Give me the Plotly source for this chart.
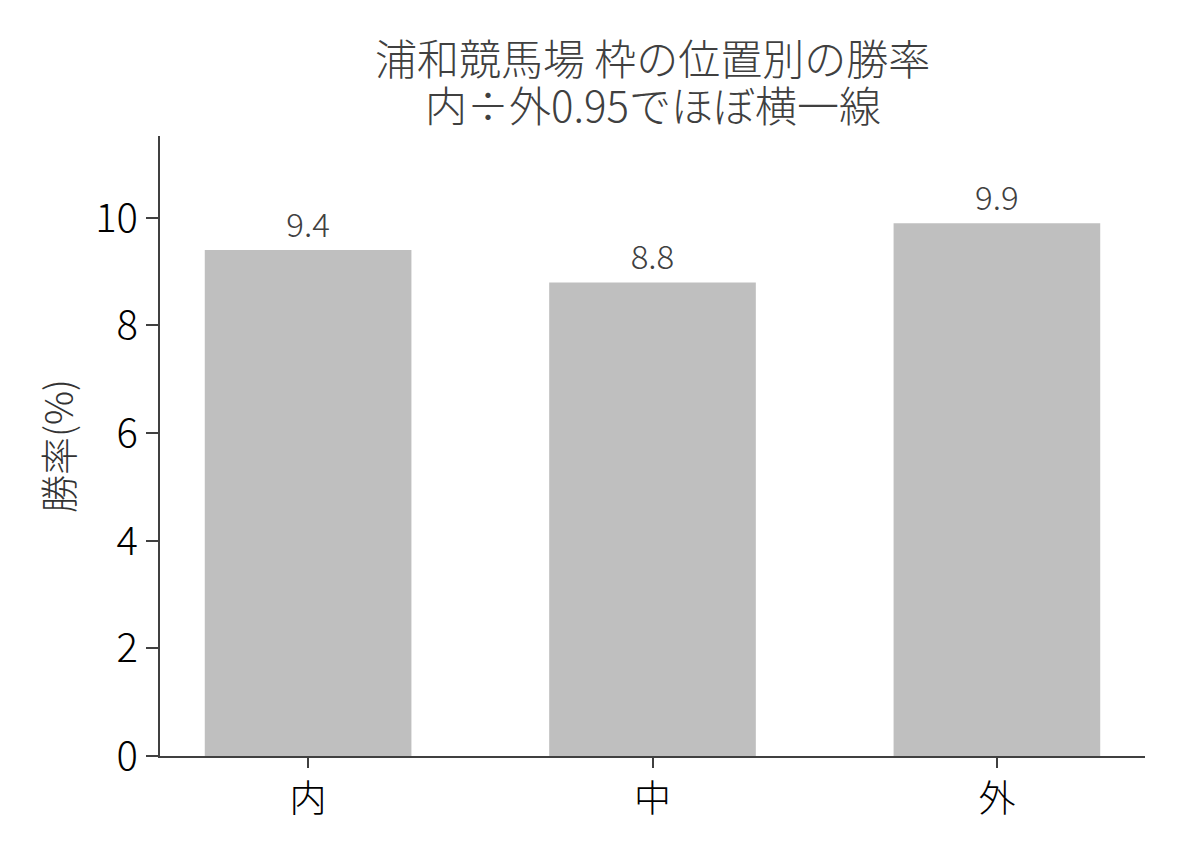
import plotly.graph_objects as go

categories = ["内", "中", "外"]
win_rate = [9.4, 8.8, 9.9]
value_labels = ["9.4", "8.8", "9.9"]
y_ticks = [0, 2, 4, 6, 8, 10]
title_lines = ["浦和競馬場 枠の位置別の勝率", "内÷外0.95でほぼ横一線"]

FONT = "Noto Sans CJK JP"

fig = go.Figure(go.Bar(
    x=categories, y=win_rate, width=0.6,
    marker=dict(color="#bfbfbf", line=dict(width=0)),
    text=value_labels, textposition="outside", cliponaxis=False,
    textfont=dict(family=FONT, size=33, color="#404040", weight=300),
))

fig.update_layout(
    width=1188, height=858,
    paper_bgcolor="white", plot_bgcolor="white",
    margin=dict(l=152, r=51, t=128, b=110),
    showlegend=False,
    font=dict(family=FONT),
)

for txt, yy in zip(title_lines, [1.129, 1.052]):
    fig.add_annotation(
        text=txt, xref="paper", yref="paper", x=0.5, y=yy,
        xanchor="center", yanchor="middle", showarrow=False,
        font=dict(family=FONT, size=42, color="#404040", weight=300),
    )

fig.update_xaxes(
    range=[-0.43, 2.43], showline=True, linecolor="#404040", linewidth=2,
    ticks="outside", ticklen=10, tickwidth=2, tickcolor="#404040",
    tickfont=dict(family=FONT, size=37, color="#000000", weight=300),
    showgrid=False, zeroline=False,
)
fig.update_yaxes(
    range=[0, 11.52], showline=True, linecolor="#404040", linewidth=2,
    ticks="outside", ticklen=12, tickwidth=2, tickcolor="#404040",
    tickvals=y_ticks, ticktext=[str(v) for v in y_ticks],
    tickfont=dict(family=FONT, size=40, color="#000000", weight=300),
    showgrid=False, zeroline=False,
    title=dict(text="勝率(%)", standoff=10,
               font=dict(family=FONT, size=38, color="#333333", weight=300)),
)

fig.write_html("out.html")
